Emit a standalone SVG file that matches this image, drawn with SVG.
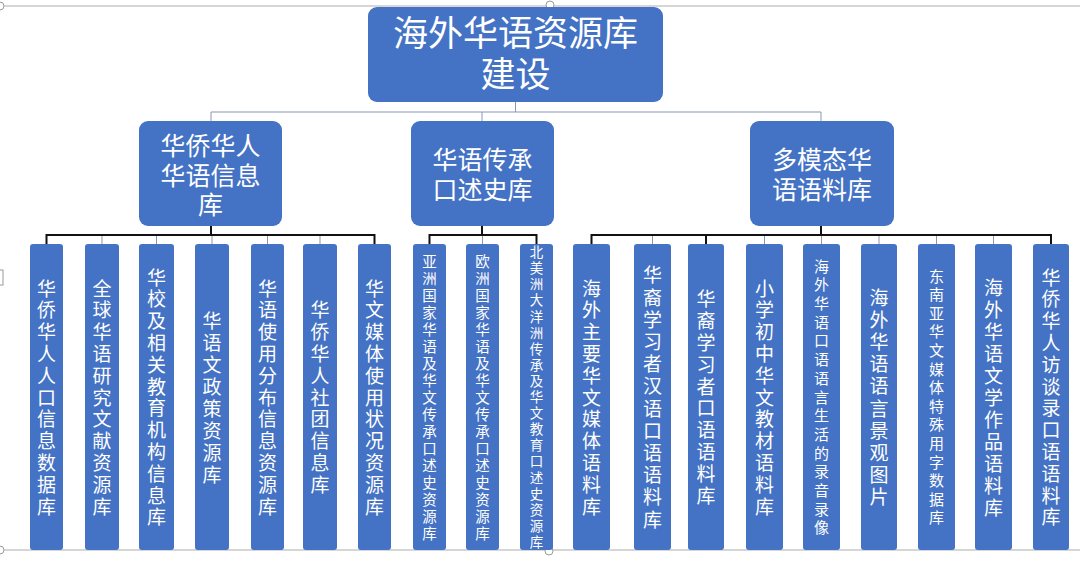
<svg xmlns="http://www.w3.org/2000/svg" width="1080" height="574" viewBox="0 0 1080 574">
<style>
.box{fill:#4472C4;}
.t{fill:#ffffff;font-family:"Noto Sans CJK SC","Noto Sans",sans-serif;text-anchor:middle;dominant-baseline:central;}
.thin{stroke:#8797b4;stroke-width:1;fill:none;}
.blk{stroke:#111111;stroke-width:2;fill:none;}
.frame{stroke:#c8c8c8;stroke-width:1.5;fill:none;}
.handle{fill:#ffffff;stroke:#9a9a9a;stroke-width:1;}
.L{font-size:19px;}
.M{font-size:14.5px;}
.S{font-size:15px;}
</style>
<rect width="1080" height="574" fill="#ffffff"/>
<g id="frame">
<line class="frame" x1="0" y1="6" x2="1080" y2="6"/>
<line class="frame" x1="0" y1="550" x2="1080" y2="550"/>
<circle class="handle" cx="0" cy="6" r="4"/>
<circle class="handle" cx="550" cy="5" r="4"/>
<circle class="handle" cx="0" cy="550" r="4"/>
<circle class="handle" cx="549" cy="551" r="4"/>
<rect class="handle" x="-2" y="270" width="5" height="15"/>
</g>
<g id="connectors">
<line class="thin" x1="515.5" y1="102" x2="515.5" y2="112"/>
<line class="thin" x1="211" y1="112" x2="821" y2="112"/>
<line class="thin" x1="211" y1="112" x2="211" y2="121"/>
<line class="thin" x1="482" y1="112" x2="482" y2="121"/>
<line class="thin" x1="821" y1="112" x2="821" y2="121"/>
<line class="thin" x1="102" y1="235" x2="102" y2="244"/>
<line class="thin" x1="156.5" y1="235" x2="156.5" y2="244"/>
<line class="thin" x1="212" y1="235" x2="212" y2="244"/>
<line class="thin" x1="267.5" y1="235" x2="267.5" y2="244"/>
<line class="thin" x1="320" y1="235" x2="320" y2="244"/>
<line class="thin" x1="482.5" y1="235" x2="482.5" y2="244"/>
<line class="thin" x1="652.5" y1="235" x2="652.5" y2="244"/>
<line class="thin" x1="764.5" y1="235" x2="764.5" y2="244"/>
<line class="thin" x1="821.5" y1="235" x2="821.5" y2="244"/>
<line class="thin" x1="879" y1="235" x2="879" y2="244"/>
<line class="thin" x1="936.5" y1="235" x2="936.5" y2="244"/>
<line class="thin" x1="993.5" y1="235" x2="993.5" y2="244"/>
<line class="blk" x1="211" y1="226" x2="211" y2="235"/>
<polyline class="blk" points="46.5,244 46.5,235 374.5,235 374.5,244"/>
<line class="blk" x1="482" y1="226" x2="482" y2="235"/>
<polyline class="blk" points="429.5,244 429.5,235 536.5,235 536.5,244"/>
<line class="blk" x1="821" y1="226" x2="821" y2="235"/>
<polyline class="blk" points="591.5,244 591.5,235 1051,235 1051,244"/>
<line class="blk" x1="706" y1="235" x2="706" y2="244"/>
</g>
<g id="root">
<rect class="box" x="368" y="7" width="295" height="95" rx="9"/>
<text class="t" style="font-size:35px"><tspan x="515.5" y="30">海外华语资源库</tspan><tspan x="515.5" y="71">建设</tspan></text>
</g>
<g id="n-a">
<rect class="box" x="139" y="121" width="143" height="105" rx="9"/>
<text class="t" style="font-size:25px"><tspan x="210.5" y="144">华侨华人</tspan><tspan x="210.5" y="173.5">华语信息</tspan><tspan x="210.5" y="203">库</tspan></text>
</g>
<g id="n-b">
<rect class="box" x="411" y="121" width="143" height="105" rx="9"/>
<text class="t" style="font-size:25px"><tspan x="482.5" y="158">华语传承</tspan><tspan x="482.5" y="188">口述史库</tspan></text>
</g>
<g id="n-c">
<rect class="box" x="750" y="121" width="144" height="105" rx="9"/>
<text class="t" style="font-size:25px"><tspan x="822" y="158">多模态华</tspan><tspan x="822" y="188">语语料库</tspan></text>
</g>
<g id="leaf1">
<rect class="box" x="30" y="244" width="33" height="306" rx="3"/>
<text class="t L" x="46.5 46.5 46.5 46.5 46.5 46.5 46.5 46.5 46.5 46.5 46.5" y="287 308.8 330.6 352.4 374.2 396 417.8 439.6 461.4 483.2 505">华侨华人人口信息数据库</text>
</g>
<g id="leaf2">
<rect class="box" x="85" y="244" width="34" height="306" rx="3"/>
<text class="t L" x="102 102 102 102 102 102 102 102 102 102 102" y="287 308.8 330.6 352.4 374.2 396 417.8 439.6 461.4 483.2 505">全球华语研究文献资源库</text>
</g>
<g id="leaf3">
<rect class="box" x="139" y="244" width="35" height="306" rx="3"/>
<text class="t L" x="156.5 156.5 156.5 156.5 156.5 156.5 156.5 156.5 156.5 156.5 156.5 156.5" y="276.1 297.9 319.7 341.5 363.3 385.1 406.9 428.7 450.5 472.3 494.1 515.9">华校及相关教育机构信息库</text>
</g>
<g id="leaf4">
<rect class="box" x="195" y="244" width="34" height="306" rx="3"/>
<text class="t L" x="212 212 212 212 212 212 212 212" y="319 341 363 385 407 429 451 473">华语文政策资源库</text>
</g>
<g id="leaf5">
<rect class="box" x="251" y="244" width="33" height="306" rx="3"/>
<text class="t L" x="267.5 267.5 267.5 267.5 267.5 267.5 267.5 267.5 267.5 267.5 267.5" y="287 308.8 330.6 352.4 374.2 396 417.8 439.6 461.4 483.2 505">华语使用分布信息资源库</text>
</g>
<g id="leaf6">
<rect class="box" x="303" y="244" width="34" height="306" rx="3"/>
<text class="t L" x="320 320 320 320 320 320 320 320 320" y="308.8 330.6 352.4 374.2 396 417.8 439.6 461.4 483.2">华侨华人社团信息库</text>
</g>
<g id="leaf7">
<rect class="box" x="358" y="244" width="33" height="306" rx="3"/>
<text class="t L" x="374.5 374.5 374.5 374.5 374.5 374.5 374.5 374.5 374.5 374.5 374.5" y="287 308.8 330.6 352.4 374.2 396 417.8 439.6 461.4 483.2 505">华文媒体使用状况资源库</text>
</g>
<g id="leaf8">
<rect class="box" x="413" y="244" width="33" height="306" rx="3"/>
<text class="t M" x="429.5 429.5 429.5 429.5 429.5 429.5 429.5 429.5 429.5 429.5 429.5 429.5 429.5 429.5 429.5 429.5 429.5" y="260 277 294 311 328 345 362 379 396 413 430 447 464 481 498 515 532">亚洲国家华语及华文传承口述史资源库</text>
</g>
<g id="leaf9">
<rect class="box" x="466" y="244" width="33" height="306" rx="3"/>
<text class="t M" x="482.5 482.5 482.5 482.5 482.5 482.5 482.5 482.5 482.5 482.5 482.5 482.5 482.5 482.5 482.5 482.5 482.5" y="260 277 294 311 328 345 362 379 396 413 430 447 464 481 498 515 532">欧洲国家华语及华文传承口述史资源库</text>
</g>
<g id="leaf10">
<rect class="box" x="520" y="244" width="33" height="306" rx="3"/>
<text class="t" style="font-size:13.5px" x="536.5 536.5 536.5 536.5 536.5 536.5 536.5 536.5 536.5 536.5 536.5 536.5 536.5 536.5 536.5 536.5 536.5 536.5 536.5" y="251.1 267.2 283.3 299.4 315.5 331.6 347.7 363.8 379.9 396 412.1 428.2 444.3 460.4 476.5 492.6 508.7 524.8 540.9">北美洲大洋洲传承及华文教育口述史资源库</text>
</g>
<g id="leaf11">
<rect class="box" x="573" y="244" width="37" height="306" rx="3"/>
<text class="t L" x="591.5 591.5 591.5 591.5 591.5 591.5 591.5 591.5 591.5 591.5 591.5" y="287 308.8 330.6 352.4 374.2 396 417.8 439.6 461.4 483.2 505">海外主要华文媒体语料库</text>
</g>
<g id="leaf12">
<rect class="box" x="634" y="244" width="37" height="306" rx="3"/>
<text class="t L" x="652.5 652.5 652.5 652.5 652.5 652.5 652.5 652.5 652.5 652.5 652.5 652.5" y="273.9 296.1 318.3 340.5 362.7 384.9 407.1 429.3 451.5 473.7 495.9 518.1">华裔学习者汉语口语语料库</text>
</g>
<g id="leaf13">
<rect class="box" x="688" y="244" width="36" height="306" rx="3"/>
<text class="t L" x="706 706 706 706 706 706 706 706 706 706" y="297.5 319.4 341.3 363.2 385.1 406.9 428.8 450.7 472.6 494.5">华裔学习者口语语料库</text>
</g>
<g id="leaf14">
<rect class="box" x="746" y="244" width="37" height="306" rx="3"/>
<text class="t L" x="764.5 764.5 764.5 764.5 764.5 764.5 764.5 764.5 764.5 764.5 764.5" y="287 308.8 330.6 352.4 374.2 396 417.8 439.6 461.4 483.2 505">小学初中华文教材语料库</text>
</g>
<g id="leaf15">
<rect class="box" x="803" y="244" width="37" height="306" rx="3"/>
<text class="t S" x="821.5 821.5 821.5 821.5 821.5 821.5 821.5 821.5 821.5 821.5 821.5 821.5 821.5 821.5 821.5" y="265.1 283.8 302.5 321.2 339.9 358.6 377.3 396 414.7 433.4 452.1 470.8 489.5 508.2 526.9">海外华语口语语言生活的录音录像</text>
</g>
<g id="leaf16">
<rect class="box" x="861" y="244" width="36" height="306" rx="3"/>
<text class="t L" x="879 879 879 879 879 879 879 879 879 879" y="296.1 318.3 340.5 362.7 384.9 407.1 429.3 451.5 473.7 495.9">海外华语语言景观图片</text>
</g>
<g id="leaf17">
<rect class="box" x="918" y="244" width="37" height="306" rx="3"/>
<text class="t S" x="936.5 936.5 936.5 936.5 936.5 936.5 936.5 936.5 936.5 936.5 936.5 936.5 936.5 936.5" y="275.1 293.7 312.3 330.9 349.5 368.1 386.7 405.3 423.9 442.5 461.1 479.7 498.3 516.9">东南亚华文媒体特殊用字数据库</text>
</g>
<g id="leaf18">
<rect class="box" x="975" y="244" width="37" height="306" rx="3"/>
<text class="t L" x="993.5 993.5 993.5 993.5 993.5 993.5 993.5 993.5 993.5 993.5 993.5" y="286 308 330 352 374 396 418 440 462 484 506">海外华语文学作品语料库</text>
</g>
<g id="leaf19">
<rect class="box" x="1033" y="244" width="36" height="306" rx="3"/>
<text class="t L" x="1051 1051 1051 1051 1051 1051 1051 1051 1051 1051 1051 1051" y="276.1 297.9 319.7 341.5 363.3 385.1 406.9 428.7 450.5 472.3 494.1 515.9">华侨华人访谈录口语语料库</text>
</g>
</svg>
